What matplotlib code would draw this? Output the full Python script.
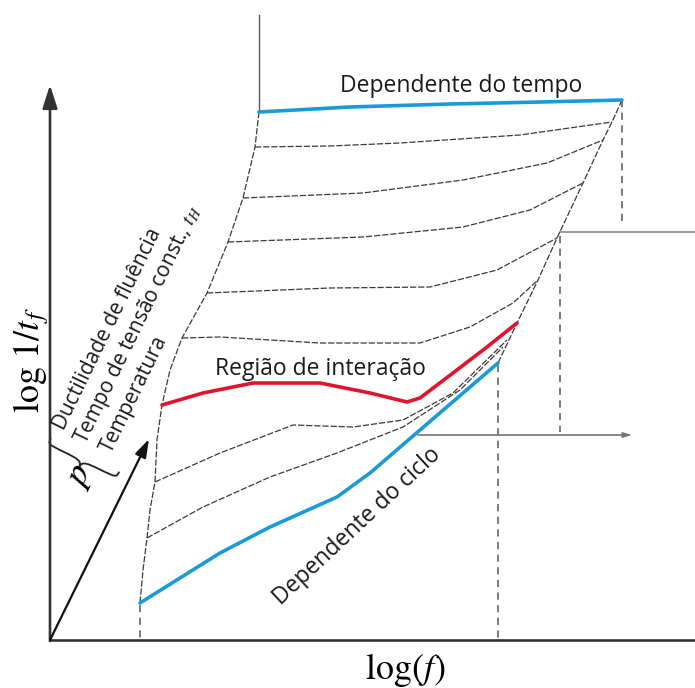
import numpy as np
import matplotlib.pyplot as plt
from matplotlib.path import Path
from matplotlib.patches import PathPatch

# schematic, in pixel units (x right, y down)
left_x = [259, 255, 243, 228, 207, 182, 170, 162, 157, 155, 150, 147, 143, 140]
left_y = [112, 147, 198, 242, 293, 338, 370, 405, 440, 482, 510, 538, 570, 603]
right_x = [622, 612, 603, 583, 557, 538, 517, 498]
right_y = [100, 122, 140, 183, 238, 280, 323, 363]

top_x = [259, 350, 450, 540, 622]
top_y = [112, 107, 104, 102, 100]

gray_curves = [
    ([255, 330, 400, 520, 612], [147, 146, 143, 135, 122]),
    ([243, 363, 463, 547, 603], [198, 193, 180, 163, 140]),
    ([228, 363, 463, 530, 583], [242, 237, 227, 210, 183]),
    ([207, 330, 430, 497, 557], [293, 288, 287, 270, 238]),
    ([182, 220, 320, 420, 470, 513, 538], [338, 337, 343, 343, 327, 303, 280]),
    ([155, 220, 293, 353, 403, 453, 507], [482, 453, 425, 427, 420, 393, 340]),
    ([147, 203, 270, 337, 403, 460, 503], [538, 507, 477, 453, 427, 390, 347]),
]

red_x = [162, 203, 253, 320, 370, 407, 420, 453, 487, 517]
red_y = [405, 393, 383, 383, 393, 402, 398, 373, 347, 323]

blue_x = [140, 220, 270, 337, 370, 420, 498]
blue_y = [603, 553, 527, 497, 473, 430, 363]

param_lines = ["Ductilidade de fluência", r"Tempo de tensão const., $t_H$", "Temperatura"]
param_starts = [(64, 431), (86, 445), (111, 454)]

BLUE = "#1b9ad8"
RED = "#e0142c"
DASH = "#3a3a3a"
AX = "#333333"

plt.rcParams["mathtext.fontset"] = "stix"
fig = plt.figure(figsize=(6.95, 6.88), dpi=100)
ax = fig.add_axes([0, 0, 1, 1])
ax.set_xlim(0, 695)
ax.set_ylim(688, 0)
ax.axis("off")

dash = (0, (5, 1.5))
vdash = (0, (4, 3))

# main axes
ax.plot([50, 695], [640, 640], color=AX, lw=1.9, solid_capstyle="butt")
ax.annotate("", xy=(50, 85), xytext=(50, 641),
            arrowprops=dict(arrowstyle="-|>,head_length=1.4,head_width=0.45",
                            color=AX, lw=1.9, shrinkA=0, shrinkB=0))
ax.annotate("", xy=(149, 439), xytext=(50, 640),
            arrowprops=dict(arrowstyle="-|>,head_length=1.1,head_width=0.35",
                            color="#111111", lw=1.6, shrinkA=0, shrinkB=0))

# secondary axis lines
ax.plot([259, 259], [15, 112], color="#555555", lw=1.0)
ax.plot([622, 622], [100, 222], color="#707070", lw=1.3, ls=vdash)
ax.plot([560, 695], [232, 232], color="#888888", lw=1.2)
ax.plot([560, 560], [236, 432], color="#707070", lw=1.3, ls=vdash)
ax.annotate("", xy=(632, 435), xytext=(418, 435),
            arrowprops=dict(arrowstyle="-|>,head_length=0.5,head_width=0.15",
                            color="#777777", lw=1.2, shrinkA=0, shrinkB=0))
ax.plot([498, 498], [365, 640], color="#707070", lw=1.3, ls=vdash)
ax.plot([140, 140], [605, 640], color="#707070", lw=1.3, ls=vdash)

# boundaries and interior curves
ax.plot(left_x, left_y, color=DASH, lw=0.9, ls=dash)
ax.plot(right_x, right_y, color=DASH, lw=0.9, ls=dash)
for cx, cy in gray_curves:
    ax.plot(cx, cy, color=DASH, lw=0.9, ls=dash)

ax.plot(top_x, top_y, color=BLUE, lw=2.6, solid_capstyle="round")
ax.plot(blue_x, blue_y, color=BLUE, lw=2.6, solid_capstyle="round")
ax.plot(red_x, red_y, color=RED, lw=2.6, solid_capstyle="round")

# texts
font = dict(family="Open Sans", color="#1a1a1a")
ax.text(340, 92, "Dependente do tempo", fontsize=16.5, ha="left", va="baseline", **font)
ax.text(215, 375, "Região de interação", fontsize=16.5, ha="left", va="baseline", **font)
ax.text(281, 606, "Dependente do ciclo", fontsize=16.5, ha="left", va="baseline",
        rotation=43, rotation_mode="anchor", **font)

ang = 64
for (sx, sy), s in zip(param_starts, param_lines):
    ax.text(sx, sy, s, fontsize=15, rotation=ang, rotation_mode="anchor",
            ha="left", va="baseline", **font)

# curly brace spanning the three parameter lines
th = np.radians(ang)
along = np.array([np.cos(th), -np.sin(th)])    # text direction (image coords)
span = np.array([np.sin(th), np.cos(th)])      # across the lines
centre = np.array([85.0, 455.0])
h, a = 38.0, 6.5
local = [(0, -h), (-a, -h), (-a, -h), (-a, -h / 2),
         (-a, -a), (-a, 0), (-2 * a, 0),
         (-a, 0), (-a, a), (-a, h / 2),
         (-a, h), (-a, h), (0, h)]
codes = [Path.MOVETO] + [Path.CURVE4] * 12
verts = [centre + t * along + s * span for t, s in local]
ax.add_patch(PathPatch(Path(verts, codes), fill=False, lw=1.3, color="#222222"))
ax.text(79, 476, r"$p$", fontsize=26, rotation=ang, ha="center", va="center")

ax.text(31, 360, r"$\mathrm{log}\ 1/t_f$", fontsize=26, rotation=90,
        ha="center", va="center")
ax.text(405, 679, r"$\mathrm{log}(f)$", fontsize=26, ha="center", va="baseline")

fig.savefig("out.png", dpi=100)
